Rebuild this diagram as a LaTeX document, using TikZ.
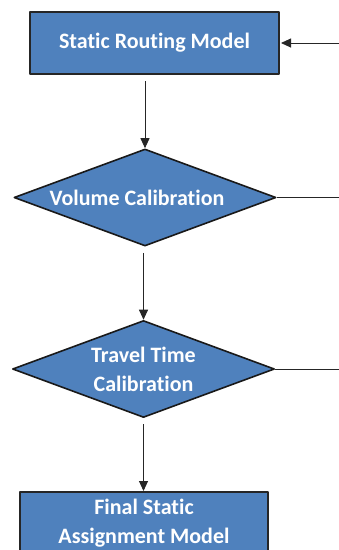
\documentclass[tikz,border=0pt]{standalone}
\usepackage{fontspec}
\setmainfont{Carlito}[Ligatures=NoCommon]
\usepackage{xcolor}
\usetikzlibrary{arrows.meta,positioning,shapes.geometric}
\definecolor{officeblue}{HTML}{4F81BD}

\begin{document}
\begin{tikzpicture}[
    x=1pt, y=-1pt,
    line join=round,
    boxtext/.style={text=white, align=center, font=\fontsize{22}{29}\selectfont\bfseries},
    procbox/.style={rectangle, boxtext, fill=officeblue, draw=black!85, line width=2pt,
      minimum width=249pt, minimum height=62pt, inner sep=0pt},
    decision/.style={diamond, boxtext, fill=officeblue, draw=black!90, line width=1.6pt,
      aspect=2.7, minimum width=262pt, minimum height=97pt, inner sep=0pt},
    flowline/.style={black!85, line width=0.9pt},
    flowarrow/.style={flowline, -{Triangle[length=10pt,width=9pt]}},
  ]

  % ---------- page frame ----------
  \useasboundingbox (0,0) rectangle (339,550);
  \clip (0,0) rectangle (339,550);

  % ---------- STEPS ----------
  \node[procbox] (routing) at (154.5,43) {Static Routing Model};
  \node[decision] (volume) at (145,197.5) {Volume Calibration\hspace*{16pt}};
  \node[decision] (travel) at (143.5,369) {Travel Time\\Calibration};
  \node[procbox, minimum width=248pt] (final) at (144,523) {Final Static\\Assignment Model};

  % free ends of the feedback lines at the right page edge
  \coordinate (backA) at (339,43);
  \coordinate (backB) at (339,197.5);
  \coordinate (backC) at (339,369);

  % ---------- MAIN FLOW ----------
  \draw[flowarrow, shorten <=6pt] (volume.north |- routing.south) -- (volume.north);
  \draw[flowarrow, shorten <=6pt] (travel.north |- volume.south) -- (travel.north);
  \draw[flowarrow, shorten <=6pt] (travel.south) -- (travel.south |- final.north);

  % ---------- FEEDBACK (right side) ----------
  \draw[flowarrow, shorten >=1pt] (backA) -- (routing.east);
  \draw[flowline] (volume.east) -- (backB);
  \draw[flowline] (travel.east) -- (backC);

\end{tikzpicture}
\end{document}
